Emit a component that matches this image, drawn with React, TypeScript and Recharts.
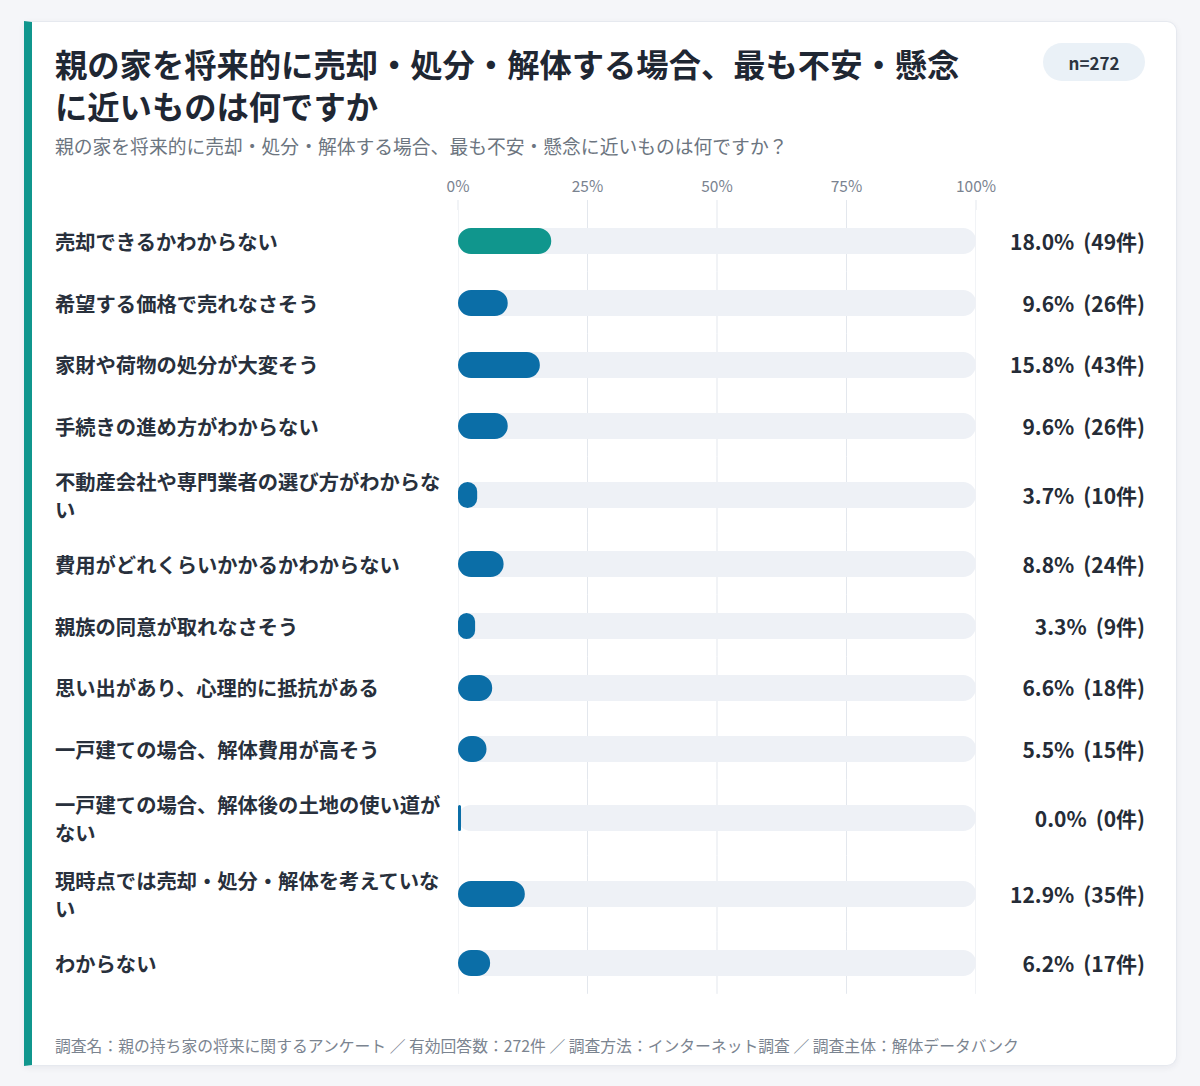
import React from "react";
import { BarChart, Bar, XAxis, YAxis, CartesianGrid } from "recharts";

const categories = [
  "売却できるかわからない",
  "希望する価格で売れなさそう",
  "家財や荷物の処分が大変そう",
  "手続きの進め方がわからない",
  "不動産会社や専門業者の選び方がわからない",
  "費用がどれくらいかかるかわからない",
  "親族の同意が取れなさそう",
  "思い出があり、心理的に抵抗がある",
  "一戸建ての場合、解体費用が高そう",
  "一戸建ての場合、解体後の土地の使い道がない",
  "現時点では売却・処分・解体を考えていない",
  "わからない",
];
const percents = [18.0, 9.6, 15.8, 9.6, 3.7, 8.8, 3.3, 6.6, 5.5, 0.0, 12.9, 6.2];
const counts = [49, 26, 43, 26, 10, 24, 9, 18, 15, 0, 35, 17];
const xTicks = [0, 25, 50, 75, 100];

const TEAL = "#10968d";
const BLUE = "#0b6ea7";
const TRACK = "#eef1f6";
const GRID = "#e3e7ed";
const FONT = '"Noto Sans CJK JP", "Noto Sans", sans-serif';

const PLOT_W = 518;

function Row({ label, pct, count, color }: { label: string; pct: number; count: number; color: string }) {
  const lines = Math.ceil(label.length / 19);
  const h = lines > 1 ? 75.8 : 61.8;
  return (
    <div style={{ display: "flex", alignItems: "center", height: h }}>
      <div
        style={{
          width: 392,
          marginRight: 11,
          fontSize: 20.3,
          fontWeight: 700,
          lineHeight: "28px",
          color: "#28303c",
        }}
      >
        {label}
      </div>
      <BarChart
        width={PLOT_W}
        height={h}
        data={[{ name: label, value: pct }]}
        layout="vertical"
        margin={{ top: 0, right: 0, bottom: 0, left: 0 }}
        style={{ overflow: "visible" }}
      >
        <CartesianGrid horizontal={false} stroke={GRID} />
        <XAxis type="number" domain={[0, 100]} ticks={xTicks} hide />
        <YAxis type="category" dataKey="name" hide />
        <Bar
          dataKey="value"
          fill={color}
          barSize={26}
          radius={13}
          minPointSize={3}
          background={{ fill: TRACK, radius: 13 }}
          isAnimationActive={false}
        />
      </BarChart>
      <div
        style={{
          width: 169,
          textAlign: "right",
          fontSize: 21,
          fontWeight: 700,
          color: "#252c37",
          whiteSpace: "nowrap",
        }}
      >
        <span>{pct.toFixed(1)}%</span>
        <span style={{ marginLeft: 9 }}>({count}件)</span>
      </div>
    </div>
  );
}

export default function App() {
  return (
    <div
      style={{
        position: "fixed",
        left: 0,
        top: 0,
        width: 1200,
        height: 1086,
        background: "#f5f6f9",
        fontFamily: FONT,
        overflow: "hidden",
      }}
    >
      <div
        style={{
          position: "absolute",
          left: 24,
          top: 21,
          width: 1144,
          height: 1043,
          background: "#ffffff",
          borderLeft: `8px solid ${TEAL}`,
          borderTop: "1px solid #e6e9ef",
          borderRight: "1px solid #e6e9ef",
          borderBottom: "1px solid #e6e9ef",
          borderRadius: "0 10px 10px 0",
          boxShadow: "0 2px 6px rgba(30,40,60,0.06)",
        }}
      />
      <div
        style={{
          position: "absolute",
          left: 55,
          top: 42,
          width: 920,
          fontSize: 32.3,
          fontWeight: 700,
          lineHeight: "42px",
          color: "#1f2733",
        }}
      >
        親の家を将来的に売却・処分・解体する場合、最も不安・懸念に近いものは何ですか
      </div>
      <div
        style={{
          position: "absolute",
          left: 1043,
          top: 43,
          width: 102,
          height: 38,
          borderRadius: 19,
          background: "#eaf1f7",
          fontSize: 17,
          fontWeight: 700,
          color: "#2b3440",
          display: "flex",
          alignItems: "center",
          justifyContent: "center",
        }}
      >
        n=272
      </div>
      <div
        style={{
          position: "absolute",
          left: 55,
          top: 133,
          fontSize: 18.8,
          lineHeight: "26px",
          color: "#6c7580",
          whiteSpace: "nowrap",
        }}
      >
        親の家を将来的に売却・処分・解体する場合、最も不安・懸念に近いものは何ですか？
      </div>
      <div style={{ position: "absolute", left: 428, top: 170 }}>
        <BarChart
          width={PLOT_W + 60}
          height={40}
          data={[{ name: "", value: 0 }]}
          layout="vertical"
          margin={{ top: 0, right: 30, bottom: 0, left: 30 }}
        >
          <CartesianGrid horizontal={false} stroke={GRID} />
          <XAxis
            type="number"
            orientation="top"
            domain={[0, 100]}
            ticks={xTicks}
            height={30}
            tickFormatter={(v: number) => `${v}%`}
            axisLine={false}
            tickLine={false}
            tickSize={6}
            tickMargin={2}
            tick={{ fill: "#7a8390", fontSize: 15.5, fontFamily: FONT }}
          />
          <YAxis type="category" dataKey="name" hide />
          <Bar dataKey="value" fill="none" isAnimationActive={false} />
        </BarChart>
      </div>
      <div style={{ position: "absolute", left: 55, top: 210 }}>
        {categories.map((c, i) => (
          <Row key={c} label={c} pct={percents[i]} count={counts[i]} color={i === 0 ? TEAL : BLUE} />
        ))}
      </div>
      <div
        style={{
          position: "absolute",
          left: 55,
          top: 1034,
          fontSize: 15.8,
          lineHeight: "24px",
          color: "#7b8490",
          whiteSpace: "nowrap",
        }}
      >
        調査名：親の持ち家の将来に関するアンケート ／ 有効回答数：272件 ／ 調査方法：インターネット調査 ／ 調査主体：解体データバンク
      </div>
    </div>
  );
}
